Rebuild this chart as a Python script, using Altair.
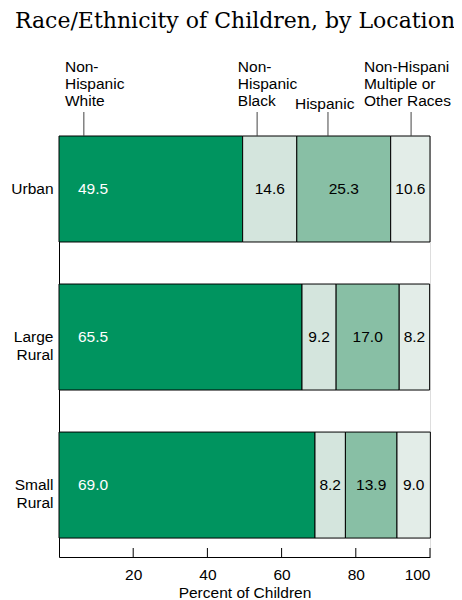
import altair as alt
import pandas as pd

# ---- data ----
locations = ["Urban", "Large Rural", "Small Rural"]
groups = ["Non-Hispanic White", "Non-Hispanic Black", "Hispanic",
          "Non-Hispanic Multiple or Other Races"]
white = [49.5, 65.5, 69.0]
black = [14.6, 9.2, 8.2]
hispanic = [25.3, 17.0, 13.9]
other = [10.6, 8.2, 9.0]
colors = ["#00945f", "#d4e5dd", "#88bfa5", "#e3ede8"]

# header annotation labels (lines joined with |) and their anchor points (percent)
header_text = ["Non-|Hispanic|White", "Non-|Hispanic|Black", "Hispanic",
               "Non-Hispanic|Multiple or|Other Races"]
header_text_x = [1.6, 48.2, 63.6, 82.2]
header_text_top = [-76, -76, -39, -76]   # pixels above plot top
header_leader_x = [6.7, 53.4, 72.5, 94.9]

xticks = [20, 40, 60, 80, 100]

# ---- build table ----
rows = []
series = [white, black, hispanic, other]
for i, loc in enumerate(locations):
    start = 0.0
    for g, vals in enumerate(series):
        v = vals[i]
        rows.append({"location": loc, "group": groups[g], "order": g,
                     "value": v, "start": start, "end": start + v,
                     "mid": start + v / 2, "label": f"{v:.1f}"})
        start += v
df = pd.DataFrame(rows)

hdr = pd.DataFrame({"text": header_text, "tx": header_text_x,
                    "ty": header_text_top, "lx": header_leader_x})
ticks_df = pd.DataFrame({"t": xticks})

W, H = 371, 421
FONT = "Liberation Sans"
FS = 15.5

xscale = alt.Scale(domain=[0, 100], nice=False)
yscale = alt.Scale(domain=locations, paddingInner=0.284, paddingOuter=0.064,
                   align=0)

bars = alt.Chart(df).mark_bar(stroke="black", strokeWidth=1).encode(
    x=alt.X("start:Q", scale=xscale,
            axis=alt.Axis(values=xticks, ticks=False, grid=False,
                          domainColor="black", labelColor="black",
                          labelFontSize=FS, labelFont=FONT, labelPadding=10,
                          title="Percent of Children", titleFont=FONT,
                          titleFontSize=FS, titleFontWeight="normal",
                          titleColor="black", titlePadding=3)),
    x2="end:Q",
    y=alt.Y("location:N", scale=yscale, sort=locations,
            axis=alt.Axis(title=None, ticks=False, domainColor="black",
                          labelColor="black", labelFontSize=FS, labelFont=FONT,
                          labelPadding=6, labelLineHeight=18,
                          labelExpr="split(datum.value, ' ')")),
    color=alt.Color("group:N", scale=alt.Scale(domain=groups, range=colors),
                    legend=None),
)

white_lbl = alt.Chart(df).transform_filter("datum.order == 0").mark_text(
    align="left", baseline="middle", dx=19, color="white", fontSize=FS,
    font=FONT).encode(
    x=alt.X("start:Q", scale=xscale),
    y=alt.Y("location:N", scale=yscale, sort=locations),
    text="label:N")

other_lbl = alt.Chart(df).transform_filter("datum.order > 0").mark_text(
    align="center", baseline="middle", color="black", fontSize=FS,
    font=FONT).encode(
    x=alt.X("mid:Q", scale=xscale),
    y=alt.Y("location:N", scale=yscale, sort=locations),
    text="label:N")

tick_marks = alt.Chart(ticks_df).mark_rule(color="black", strokeWidth=1).encode(
    x=alt.X("t:Q", scale=xscale),
    y=alt.value(H - 9), y2=alt.value(H))

leaders = alt.Chart(hdr).mark_rule(color="#444444", strokeWidth=1).encode(
    x=alt.X("lx:Q", scale=xscale),
    y=alt.value(-24), y2=alt.value(0))

hdr_text = alt.Chart(hdr).transform_calculate(
    lines="split(datum.text, '|')").mark_text(
    align="left", baseline="top", fontSize=FS, font=FONT, color="black",
    lineHeight=17, limit=90, ellipsis="\u200b").encode(
    x=alt.X("tx:Q", scale=xscale),
    y=alt.Y("ty:Q", scale=None),
    text="lines:N")

title = alt.Chart(pd.DataFrame({"t": ["Race/Ethnicity of Children, by Location"]})
                  ).mark_text(align="center", baseline="middle",
                              font="DejaVu Serif", fontSize=22,
                              color="black").encode(
    x=alt.value(176), y=alt.value(-115), text="t:N")

chart = alt.layer(bars, white_lbl, other_lbl, tick_marks, leaders, hdr_text,
                  title).properties(
    width=W, height=H,
    autosize=alt.AutoSizeParams(type="none"),
    padding={"left": 51, "top": 128, "right": 24, "bottom": 45},
).configure_view(stroke=None).configure(background="white")

chart.save("out.html", embed_options={"renderer": "svg", "actions": False})
